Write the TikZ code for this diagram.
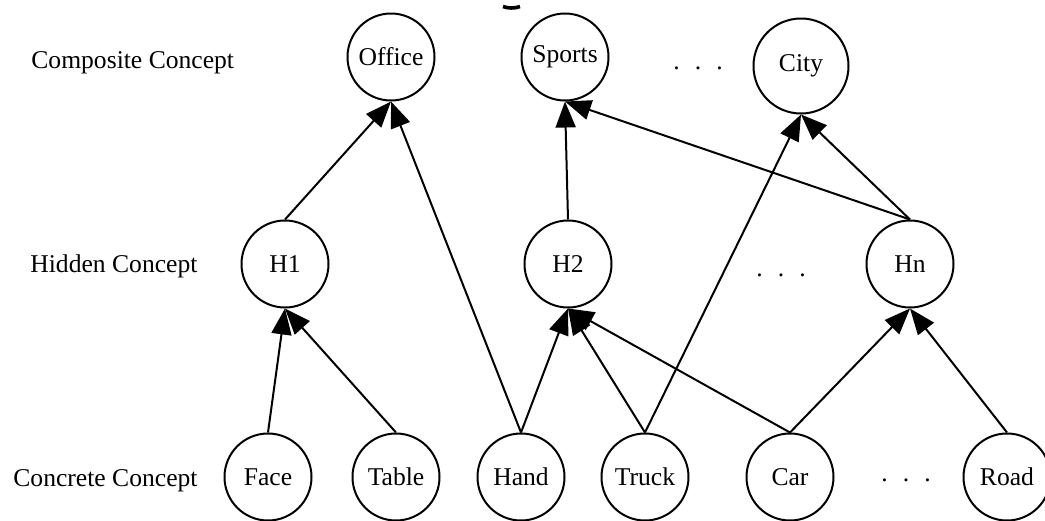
\documentclass[tikz,border=0pt]{standalone}
\usepackage{fontspec}
\setmainfont{Liberation Serif}
\usetikzlibrary{arrows.meta}
\begin{document}
\begin{tikzpicture}[x=0.5pt,y=-0.5pt,
  concept/.style={circle,draw,line width=1pt,minimum size=43.5pt,inner sep=0pt,font=\fontsize{12.8}{15}\selectfont},
  lbl/.style={anchor=base west,inner sep=0pt,font=\fontsize{12.8}{15}\selectfont},
  dots/.style={anchor=base,inner sep=0pt,font=\fontsize{12.8}{15}\selectfont},
  link/.style={line width=1pt,-{Triangle[length=13pt,width=10pt]}}]
\useasboundingbox (0,0) rectangle (1045,520);
% row labels
\node[lbl] (lc) at (31,68) {Composite Concept};
\node[lbl] (lh) at (30,272) {Hidden Concept};
\node[lbl] (lk) at (13,486) {Concrete Concept};
% composite
\node[concept] (Office) at (391,57) {Office};
\node[concept] (Sports) at (565,57) {Sports};
\node[concept,minimum size=47.5pt] (City) at (801,66) {City};
% hidden
\node[concept] (H1) at (285,264) {H1};
\node[concept] (H2) at (568,264) {H2};
\node[concept] (Hn) at (910,264) {Hn};
% concrete
\node[concept] (Face) at (268,477) {Face};
\node[concept] (Table) at (396,477) {Table};
\node[concept] (Hand) at (521,477) {Hand};
\node[concept] (Truck) at (645,477) {Truck};
\node[concept] (Car) at (790,477) {Car};
\node[concept] (Road) at (1007,477) {Road};
% ellipses
\node[dots] (d1) at (698,69) {.\kern7.55pt.\kern7.55pt.};
\node[dots] (d2) at (781,276) {.\kern7.55pt.\kern7.55pt.};
\node[dots] (d3) at (906,481) {.\kern7.55pt.\kern7.55pt.};
% stray mark
\draw[line width=1.8pt] (503,6.5) .. controls (508,8.5) and (515,8.5) .. (520,6.5);
% links
\draw[link] (H1.north) -- (Office.south);
\draw[link] (Hand.north) -- (Office.south);
\draw[link] (H2.north) -- (Sports.south);
\draw[link] (Hn.north) -- (Sports.south);
\draw[link] (Truck.north) -- (City.south);
\draw[link] (Hn.north) -- (City.south);
\draw[link] (Face.north) -- (H1.south);
\draw[link] (Table.north) -- (H1.south);
\draw[link] (Hand.north) -- (H2.south);
\draw[link] (Truck.north) -- (H2.south);
\draw[link] (Car.north) -- (H2.south);
\draw[link] (Car.north) -- (Hn.south);
\draw[link] (Road.north) -- (Hn.south);
\end{tikzpicture}
\end{document}
